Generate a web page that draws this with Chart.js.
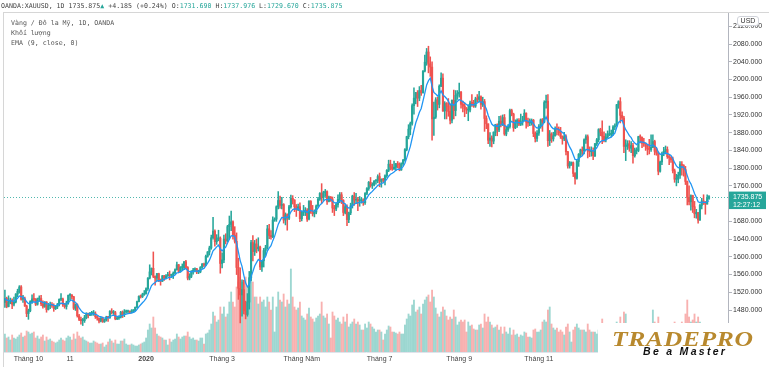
<!DOCTYPE html>
<html>
<head>
<meta charset="utf-8">
<title>OANDA:XAUUSD 1D</title>
<script src="https://cdn.jsdelivr.net/npm/chart.js@4.4.1/dist/chart.umd.min.js"></script>
<style>
  html, body { margin: 0; padding: 0; background: #fff; }
  #wrap { position: relative; width: 769px; height: 367px; overflow: hidden; }
  #c { position: absolute; left: 0; top: 0; }
  .frame { position: absolute; left: 3px; top: 12px; width: 766px; height: 355px; box-sizing: border-box;
           border-top: 1px solid #d6d6d6; border-left: 1px solid #d6d6d6; pointer-events: none; }
  .hdr { position: absolute; left: 1px; top: 1px; font: 6.6px 'DejaVu Sans Mono', monospace; color: #444;
         line-height: 10px; white-space: pre; }
  .hdr .v { color: #26a69a; }
  .leg { position: absolute; left: 11px; top: 18px; font: 6.6px 'DejaVu Sans Mono', monospace; color: #555;
         line-height: 10px; white-space: pre; }
  .usd { position: absolute; left: 737px; top: 16px; width: 22px; height: 10px; box-sizing: border-box;
         border: 1px solid #d0d3da; border-radius: 3px; background: #fff; font: 7px 'Liberation Sans', sans-serif;
         color: #333; text-align: center; line-height: 8px; }
  .logo { position: absolute; left: 598px; top: 323px; width: 171px; height: 40px; background: #fff; }
  .logo .t { position: absolute; left: 14px; top: 6px; font: italic bold 20px 'Liberation Serif', serif; color: #b8892e;
             line-height: 20px; letter-spacing: 0.5px; transform: scaleX(1.28); transform-origin: left top; white-space: nowrap; }
  .logo .s { position: absolute; left: 45px; top: 23px; font: italic bold 10.5px 'Liberation Sans', sans-serif; color: #111;
             line-height: 11px; letter-spacing: 2.3px; white-space: nowrap; }
</style>
</head>
<body>
<div id="wrap">
  <canvas id="c" width="769" height="367"></canvas>
  <div class="frame"></div>
  <div class="hdr">OANDA:XAUUSD, 1D 1735.875<span class="v">▲</span> +4.185 (+0.24%) O:<span class="v">1731.690</span> H:<span class="v">1737.976</span> L:<span class="v">1729.670</span> C:<span class="v">1735.875</span></div>
  <div class="leg">Vàng / Đô la Mỹ, 1D, OANDA
Khối lượng
EMA (9, close, 0)</div>
  <div class="usd">USD</div>
  <div class="logo"><div class="t">TRADEPRO</div><div class="s">Be a Master</div></div>
</div>
<script>
// Daily candles, 12 Sep 2019 .. 16 Mar 2021 (one row per month)
var open = [
  1497,1506,1488,1498,1502,1493,1498,1516,1522,1532,1504,1505,1489,
  1472,1478,1499,1505,1504,1493,1505,1506,1494,1488,1498,1481,1490,1492,1490,1483,1487,1492,1504,1505,1492,1488,1496,
  1513,1514,1510,1484,1492,1467,1459,1456,1456,1463,1471,1468,1472,1472,1472,1465,1462,1455,1462,1454,1458,
  1464,1463,1477,1474,1474,1460,1462,1464,1475,1470,1476,1476,1476,1475,1478,1479,1486,1499,1511,1510,1515,
  1517,1528,1552,1566,1574,1556,1552,1562,1548,1545,1557,1552,1557,1560,1558,1558,1563,1571,1582,1567,1576,1576,
  1589,1576,1552,1556,1566,1570,1573,1566,1566,1576,1584,1581,1601,1611,1620,1643,1658,1634,1641,1642,
  1585,1593,1640,1636,1668,1673,1679,1649,1635,1576,1529,1514,1526,1478,1470,1498,1553,1632,1612,1629,1618,1622,
  1577,1591,1614,1620,1663,1648,1645,1683,1685,1713,1727,1716,1718,1683,1695,1687,1713,1732,1728,1713,1707,1713,
  1686,1700,1702,1705,1685,1725,1703,1697,1701,1715,1730,1743,1734,1745,1747,1725,1735,1729,1710,1708,1718,
  1730,1740,1727,1700,1713,1684,1699,1715,1737,1728,1730,1726,1727,1727,1722,1743,1754,1768,1761,1762,1771,1772,
  1781,1770,1775,1773,1783,1795,1809,1803,1798,1802,1810,1808,1796,1810,1818,1842,1871,1888,1901,1941,1958,1970,1958,
  1975,1970,2019,2039,2062,2035,2028,1911,1915,1954,1944,1985,2003,1929,1946,1940,1928,1908,1953,1930,1964,
  1968,1971,1944,1940,1934,1931,1931,1947,1946,1940,1956,1955,1961,1944,1950,1912,1900,1863,1868,1861,1881,1898,
  1886,1906,1900,1914,1877,1887,1894,1930,1922,1891,1902,1908,1899,1904,1907,1924,1904,1902,1902,1908,1878,1867,
  1879,1894,1909,1904,1948,1951,1862,1877,1866,1873,1889,1888,1880,1871,1866,1871,1837,1805,1811,1812,1788,
  1777,1815,1831,1841,1839,1864,1871,1839,1837,1840,1828,1855,1864,1887,1881,1872,1864,1870,1876,1876,1877,1893,
  1895,1943,1950,1919,1913,1849,1850,1855,1845,1851,1828,1840,1840,1871,1870,1856,1855,1850,1843,1842,
  1847,1860,1838,1834,1793,1814,1832,1838,1842,1826,1824,1819,1794,1775,1775,1784,1809,1806,1797,1770,
  1734,1724,1738,1713,1697,1700,1683,1716,1726,1723,1719,1731.69
];
var high = [
  1525,1509,1512,1507,1505,1509,1517,1527,1535,1535,1513,1509,1491,
  1482,1501,1514,1517,1506,1507,1512,1513,1501,1499,1499,1495,1498,1497,1494,1490,1495,1505,1517,1507,1495,1500,1514,
  1517,1515,1511,1494,1494,1470,1464,1461,1468,1474,1473,1475,1477,1479,1476,1467,1462,1463,1464,1459,1466,
  1466,1479,1483,1479,1477,1465,1467,1477,1478,1481,1480,1480,1478,1481,1481,1487,1500,1512,1514,1518,1524,
  1530,1553,1582,1575,1611,1557,1563,1563,1550,1558,1558,1560,1565,1568,1561,1566,1573,1588,1583,1578,1584,1589,
  1592,1578,1562,1569,1574,1575,1574,1570,1578,1585,1586,1604,1612,1624,1649,1689,1661,1650,1660,1645,
  1609,1649,1652,1671,1692,1703,1681,1668,1654,1597,1575,1548,1547,1500,1517,1567,1637,1648,1637,1640,1643,1624,
  1592,1619,1626,1671,1673,1659,1690,1688,1715,1747,1737,1734,1720,1699,1697,1716,1739,1738,1729,1718,1719,1722,
  1703,1716,1711,1709,1727,1727,1716,1706,1717,1734,1745,1765,1748,1752,1749,1737,1736,1735,1716,1722,1740,
  1745,1745,1729,1717,1717,1701,1721,1739,1745,1743,1734,1736,1733,1731,1745,1756,1770,1779,1767,1772,1774,1785,
  1789,1776,1777,1785,1797,1818,1818,1809,1816,1811,1815,1812,1812,1820,1844,1872,1898,1904,1945,1981,1971,1975,1984,
  1987,2020,2055,2070,2075,2051,2040,1949,1959,1960,1988,2015,2013,1950,1948,1957,1945,1954,1976,1975,1975,
  1992,1973,1951,1947,1937,1943,1951,1966,1953,1960,1966,1973,1963,1960,1955,1918,1900,1880,1873,1882,1899,1900,
  1917,1918,1920,1921,1893,1898,1933,1933,1924,1909,1911,1912,1922,1917,1932,1925,1913,1911,1911,1910,1882,1885,
  1898,1911,1912,1952,1965,1966,1885,1880,1881,1893,1900,1893,1892,1873,1881,1875,1838,1815,1814,1814,1790,
  1820,1833,1843,1848,1866,1875,1875,1848,1848,1846,1856,1867,1889,1890,1907,1882,1878,1884,1895,1886,1896,1900,
  1944,1952,1959,1927,1917,1864,1862,1862,1860,1856,1845,1846,1872,1875,1870,1867,1857,1853,1865,1875,
  1875,1863,1845,1837,1816,1836,1847,1850,1848,1829,1826,1825,1798,1786,1791,1815,1815,1808,1804,1771,
  1760,1740,1739,1725,1707,1700,1719,1732,1740,1725,1740,1737.976
];
var low = [
  1486,1485,1487,1494,1483,1489,1496,1510,1518,1502,1497,1488,1465,
  1459,1476,1495,1500,1490,1491,1500,1490,1484,1486,1475,1480,1483,1486,1477,1481,1483,1489,1501,1488,1484,1482,1493,
  1503,1505,1481,1479,1464,1456,1448,1445,1452,1460,1462,1467,1468,1468,1461,1457,1451,1453,1452,1452,1455,
  1454,1461,1471,1470,1458,1458,1459,1462,1463,1465,1473,1473,1472,1473,1474,1478,1485,1498,1507,1508,1513,
  1516,1524,1550,1559,1553,1536,1545,1544,1536,1544,1547,1550,1556,1548,1553,1551,1561,1570,1564,1565,1570,1571,
  1573,1548,1548,1553,1561,1566,1562,1562,1564,1574,1578,1580,1599,1604,1617,1640,1624,1628,1636,1563,
  1575,1587,1629,1634,1640,1659,1640,1631,1560,1504,1451,1466,1471,1460,1466,1482,1546,1591,1603,1609,1613,1571,
  1567,1577,1603,1617,1641,1640,1643,1680,1680,1708,1709,1708,1676,1672,1660,1684,1710,1719,1702,1691,1704,1679,
  1681,1693,1693,1680,1683,1698,1692,1690,1697,1712,1727,1721,1727,1736,1718,1724,1725,1700,1693,1704,1712,
  1722,1720,1693,1697,1670,1677,1695,1710,1716,1720,1704,1714,1721,1716,1718,1740,1750,1757,1754,1760,1764,1767,
  1758,1757,1768,1762,1779,1792,1796,1795,1797,1795,1801,1794,1795,1806,1816,1839,1866,1875,1897,1922,1945,1939,1952,
  1964,1969,2017,2032,2015,2007,1863,1874,1912,1931,1936,1984,1928,1911,1911,1917,1900,1902,1911,1918,1955,
  1960,1935,1927,1916,1923,1907,1927,1939,1937,1937,1950,1950,1933,1939,1883,1889,1855,1849,1848,1855,1873,1873,
  1882,1893,1896,1874,1873,1883,1890,1918,1883,1889,1892,1896,1896,1897,1906,1890,1894,1896,1897,1871,1859,1860,
  1874,1890,1883,1902,1935,1849,1851,1858,1861,1872,1875,1874,1867,1854,1862,1830,1800,1800,1806,1781,1764,
  1775,1804,1826,1828,1832,1856,1823,1826,1827,1819,1826,1851,1859,1873,1855,1859,1859,1868,1873,1871,1874,1887,
  1895,1935,1902,1907,1835,1817,1842,1838,1835,1811,1825,1832,1837,1857,1846,1849,1840,1830,1832,1838,
  1846,1830,1829,1785,1791,1808,1828,1832,1822,1808,1813,1789,1768,1760,1767,1777,1784,1782,1763,1717,
  1717,1705,1700,1688,1687,1676,1682,1708,1718,1696,1719,1729.67
];
var close = [
  1506,1488,1498,1502,1493,1498,1516,1522,1532,1504,1505,1489,1472,
  1478,1499,1505,1504,1493,1505,1506,1494,1488,1498,1481,1490,1492,1490,1483,1487,1492,1504,1505,1492,1488,1496,1513,
  1514,1510,1484,1492,1467,1459,1456,1456,1463,1471,1468,1472,1472,1472,1465,1462,1455,1462,1454,1458,1464,
  1463,1477,1474,1474,1460,1462,1464,1475,1470,1476,1476,1476,1475,1478,1479,1486,1499,1511,1510,1515,1517,
  1528,1552,1566,1574,1556,1552,1562,1548,1545,1557,1552,1557,1560,1558,1558,1563,1571,1582,1567,1576,1576,1589,
  1576,1552,1556,1566,1570,1573,1566,1566,1576,1584,1581,1601,1611,1620,1643,1658,1634,1641,1642,1585,
  1593,1640,1636,1668,1673,1679,1649,1635,1576,1529,1514,1526,1478,1470,1498,1553,1632,1612,1629,1618,1622,1577,
  1591,1614,1620,1663,1648,1645,1683,1685,1713,1727,1716,1718,1683,1695,1687,1713,1732,1728,1713,1707,1713,1686,
  1700,1702,1705,1685,1725,1703,1697,1701,1715,1730,1743,1734,1745,1747,1725,1735,1729,1710,1708,1718,1730,
  1740,1727,1700,1713,1684,1699,1715,1737,1728,1730,1726,1727,1727,1722,1743,1754,1768,1761,1762,1771,1772,1781,
  1770,1775,1773,1783,1795,1809,1803,1798,1802,1810,1808,1796,1810,1818,1842,1871,1888,1901,1941,1958,1970,1958,1975,
  1970,2019,2039,2062,2035,2028,1911,1915,1954,1944,1985,2003,1929,1946,1940,1928,1908,1953,1930,1964,1968,
  1971,1944,1940,1934,1931,1931,1947,1946,1940,1956,1955,1961,1944,1950,1912,1900,1863,1868,1861,1881,1898,1886,
  1906,1900,1914,1877,1887,1894,1930,1922,1891,1902,1908,1899,1904,1907,1924,1904,1902,1902,1908,1878,1867,1879,
  1894,1909,1904,1948,1951,1862,1877,1866,1873,1889,1888,1880,1871,1866,1871,1837,1805,1811,1812,1788,1777,
  1815,1831,1841,1839,1864,1871,1839,1837,1840,1828,1855,1864,1887,1881,1872,1864,1870,1876,1876,1877,1893,1895,
  1943,1950,1919,1913,1849,1850,1855,1845,1851,1828,1840,1840,1871,1870,1856,1855,1850,1843,1842,1847,
  1860,1838,1834,1793,1814,1832,1838,1842,1826,1824,1819,1794,1775,1775,1784,1809,1806,1797,1770,1734,
  1724,1738,1713,1697,1700,1683,1716,1726,1723,1719,1731.69,1735.875
];
// Volume (thousand ticks)
var volume = [
  18,14,15,12,17,14,13,15,17,19,15,16,21,
  20,18,19,20,14,16,13,15,17,11,15,12,13,11,10,9,10,12,14,12,11,14,16,
  15,12,18,13,20,16,14,15,12,11,10,9,9,11,10,9,8,8,9,5,7,
  10,13,11,9,12,8,8,11,11,13,8,7,7,8,7,6,6,7,8,9,10,
  14,22,28,24,35,24,18,16,15,14,12,12,7,13,10,12,13,18,15,13,15,16,
  16,20,15,13,14,12,12,11,14,14,8,18,19,22,28,40,36,30,32,45,
  38,45,35,38,50,60,50,45,65,70,75,70,72,75,66,68,80,70,55,55,48,55,
  50,52,45,55,50,42,55,20,45,60,52,50,58,45,52,48,83,55,45,42,44,50,
  36,34,32,38,44,35,33,30,34,36,38,50,36,34,38,28,14,40,36,32,34,
  30,28,35,30,38,25,28,30,33,28,30,27,22,22,28,24,30,28,25,23,20,22,
  22,20,12,18,22,26,25,20,20,19,18,20,18,18,27,33,38,36,47,52,40,42,45,
  38,48,52,55,57,50,62,55,44,38,35,40,45,42,36,32,35,33,42,35,27,
  30,32,30,32,20,30,26,27,23,22,22,27,28,24,38,30,35,30,27,24,25,27,
  22,25,18,25,20,18,24,17,22,17,18,15,17,16,20,19,15,15,14,22,23,20,
  20,22,30,32,30,42,45,28,24,22,24,20,22,20,17,25,28,20,10,22,25,
  28,24,22,22,22,20,28,22,20,20,20,18,22,18,33,20,15,10,18,15,15,12,
  30,25,35,25,40,38,25,24,25,28,15,22,25,22,20,20,20,22,22,25,
  42,30,25,35,28,25,24,24,22,20,15,28,30,28,26,28,30,28,38,52,
  35,30,32,38,30,35,30,25,25,28,22,5
];

// Time axis labels (bar index of first bar of the month)
var tickIndex = [13, 36, 78, 120, 164, 207, 251, 295, 338, 378];
var tickText = ['Tháng 10', '11', '2020', 'Tháng 3', 'Tháng Năm', 'Tháng 7', 'Tháng 9', 'Tháng 11', '2021', 'Tháng 3'];
// Price axis labels
var priceTicks = [1440, 1480, 1520, 1560, 1600, 1640, 1680, 1720, 1760, 1800, 1840, 1880, 1920, 1960, 2000, 2040, 2080, 2120];

var UP = '#26a69a', DOWN = '#ef5350';
var nSlots = 400; // right margin of empty bars, like TradingView

var labels = [];
for (var i = 0; i < nSlots; i++) labels.push(i < close.length ? 'b' + i : '');

var tickAt = {};
tickIndex.forEach(function (idx, k) { tickAt[idx] = tickText[k]; });

var candleColor = close.map(function (c, i) { return c >= open[i] ? UP : DOWN; });
var volColor = close.map(function (c, i) { return c >= open[i] ? 'rgba(38,166,154,0.45)' : 'rgba(239,83,80,0.45)'; });

// EMA (9, close)
var ema = [];
var k = 2 / (9 + 1);
close.forEach(function (c, i) { ema.push(i === 0 ? c : c * k + ema[i - 1] * (1 - k)); });

var lastClose = close[close.length - 1];

var lastPrice = {
  id: 'lastPrice',
  beforeDatasetsDraw: function (chart) {
    var a = chart.chartArea, ctx = chart.ctx;
    var y = Math.round(chart.scales.y.getPixelForValue(lastClose)) + 0.5;
    ctx.save();
    ctx.strokeStyle = 'rgba(38,166,154,0.8)';
    ctx.lineWidth = 1;
    ctx.setLineDash([1, 2]);
    ctx.beginPath();
    ctx.moveTo(a.left, y);
    ctx.lineTo(a.right, y);
    ctx.stroke();
    ctx.restore();
  },
  afterDraw: function (chart) {
    var a = chart.chartArea, ctx = chart.ctx;
    var y = chart.scales.y.getPixelForValue(lastClose);
    ctx.save();
    ctx.fillStyle = UP;
    ctx.fillRect(a.right + 1, y - 5, 37, 17.5);
    ctx.fillStyle = '#fff';
    ctx.font = '7px "Liberation Sans", sans-serif';
    ctx.textBaseline = 'middle';
    ctx.fillText(lastClose.toFixed(3), a.right + 5, y + 0.5);
    ctx.fillText('12:27:12', a.right + 5, y + 8.5);
    ctx.restore();
  }
};

var ctx = document.getElementById('c').getContext('2d');
var myChart = new Chart(ctx, {
  type: 'bar',
  data: {
    labels: labels,
    datasets: [
      {
        label: 'Khối lượng',
        data: volume,
        yAxisID: 'yv',
        backgroundColor: volColor,
        barThickness: 1.2,
        grouped: false,
        order: 4
      },
      {
        label: 'wick',
        data: high.map(function (h, i) { return [low[i], h]; }),
        yAxisID: 'y',
        backgroundColor: candleColor,
        barThickness: 0.9,
        grouped: false,
        order: 3
      },
      {
        label: 'body',
        data: open.map(function (o, i) { return [o, close[i]]; }),
        yAxisID: 'y',
        backgroundColor: candleColor,
        barThickness: 1.5,
        minBarLength: 1,
        grouped: false,
        order: 2
      },
      {
        type: 'line',
        label: 'EMA (9, close, 0)',
        data: ema,
        yAxisID: 'y',
        borderColor: '#2196f3',
        borderWidth: 1.3,
        pointRadius: 0,
        tension: 0,
        order: 1
      }
    ]
  },
  options: {
    responsive: false,
    animation: false,
    layout: { padding: { top: 12, left: 4, right: 0, bottom: 0 } },
    scales: {
      x: {
        type: 'category',
        offset: true,
        grid: { display: false, drawTicks: false },
        border: { display: true, color: '#e0e3eb' },
        ticks: {
          autoSkip: false,
          maxRotation: 0,
          padding: 3,
          color: '#444',
          font: function (c) {
            var t = tickAt[c.index];
            return { size: 7, family: 'Liberation Sans', weight: (t === '2020' || t === '2021') ? 'bold' : 'normal' };
          },
          callback: function (v, i) { return tickAt[i] || ''; }
        },
        afterFit: function (s) { s.height = 15; }
      },
      y: {
        position: 'right',
        min: 1385.3,
        max: 2152.2,
        afterBuildTicks: function (s) { s.ticks = priceTicks.map(function (v) { return { value: v }; }); },
        grid: { drawOnChartArea: false, drawTicks: true, tickLength: 4, color: '#b2b5be' },
        border: { display: true, color: '#b2b5be' },
        ticks: {
          padding: 1,
          color: '#333',
          font: { size: 7, family: 'Liberation Sans' },
          callback: function (v) { return Number(v).toFixed(3); }
        },
        afterFit: function (s) { s.width = 41; }
      },
      yv: { display: false, min: 0, max: 340 }
    },
    plugins: {
      legend: { display: false },
      tooltip: { enabled: false }
    }
  },
  plugins: [lastPrice]
});
</script>
</body>
</html>
